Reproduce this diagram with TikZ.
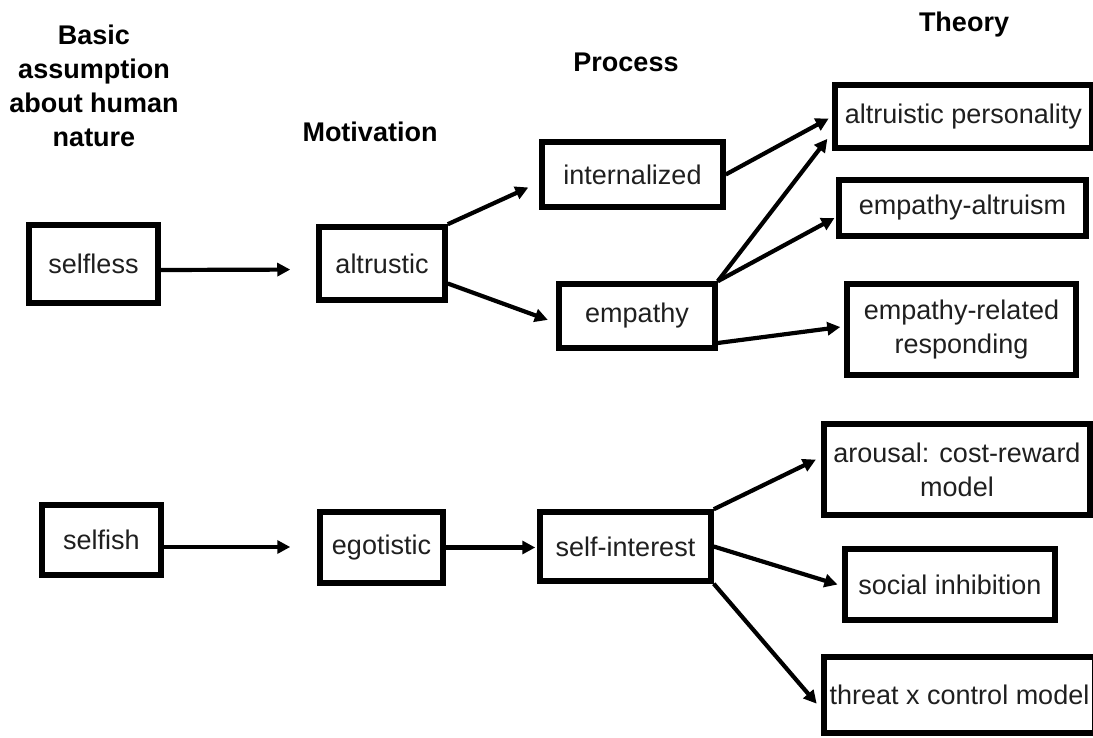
\documentclass[tikz,border=0pt]{standalone}
\usepackage{fontspec}
\setmainfont{Liberation Sans}
\usetikzlibrary{arrows.meta,calc}

\tikzset{
  box/.style={draw=black, line width=5.5pt, rectangle, inner sep=0pt,
    align=center, text=black!88,
    font=\fontsize{27}{34}\selectfont},
  head/.style={align=center, inner sep=0pt, text=black,
    font=\fontsize{27}{34}\selectfont\bfseries},
  arr/.style={line width=4.2pt, draw=black,
    -{Triangle[length=13pt,width=13pt]}},
}

\begin{document}
\begin{tikzpicture}[x=1pt,y=-1pt]
\useasboundingbox (0,0) rectangle (1093,738);

% column headings
\node[head] (hbasic) at (94,86)  {Basic\\assumption\\about human\\nature};
\node[head] (hmot)   at (370,132) {Motivation};
\node[head] (hproc)  at (626,62)  {Process};
\node[head] (htheo)  at (964,25)  {Theory};

% upper branch
\node[box, minimum width=129pt, minimum height=78pt] (selfless) at (93.5,264)  {selfless};
\node[box, minimum width=126pt, minimum height=73pt] (alt)      at (382,263.5) {altrustic};
\node[box, minimum width=181pt, minimum height=65pt] (int)      at (632.5,174.5) {internalized};
\node[box, minimum width=156pt, minimum height=64pt] (emp)      at (637,316)   {empathy};
\node[box, minimum width=257pt, minimum height=63pt] (altpers)  at (963.5,116.5) {altruistic personality};
\node[box, minimum width=247pt, minimum height=56pt] (empalt)   at (962.5,208) {empathy-altruism};
\node[box, minimum width=229pt, minimum height=91pt] (emprel)   at (961.5,329.5) {empathy-related\\responding};

% lower branch
\node[box, minimum width=119pt, minimum height=70pt] (selfish)  at (101.5,540) {selfish};
\node[box, minimum width=123pt, minimum height=71pt] (ego)      at (381.5,547.5) {egotistic};
\node[box, minimum width=171pt, minimum height=69pt] (selfint)  at (625.5,546.5) {self-interest};
\node[box, minimum width=266pt, minimum height=91pt] (arousal)  at (957,469.5) {arousal: cost-reward\\model};
\node[box, minimum width=210pt, minimum height=71pt] (social)   at (950,584.5) {social inhibition};
\node[box, minimum width=271pt, minimum height=76pt] (threat)   at (959.5,695) {threat x control model};

% connectors, upper branch
\draw[arr, shorten >=26pt] ([yshift=-6pt]selfless.east) -- ([yshift=-6pt]alt.west);
\draw[arr, shorten >=12pt] (alt.north east) -- ([yshift=-8pt]int.west);
\draw[arr, shorten >=9pt]  ([yshift=-20pt]alt.east) -- ([yshift=-7pt]emp.west);
\draw[arr, shorten >=4pt]  (int.east) -- (altpers.west);
\draw[arr, shorten >=8pt]  (emp.north east) -- ([yshift=-16pt]altpers.west);
\draw[arr, shorten >=2pt]  (emp.north east) -- ([yshift=-9pt]empalt.west);
\draw[arr, shorten >=4pt]  ([yshift=-27pt]emp.east) -- ([yshift=3pt]emprel.west);

% connectors, lower branch
\draw[arr, shorten >=27pt] ([yshift=-7pt]selfish.east) -- ([yshift=-7pt]selfish.east -| ego.west);
\draw[arr, shorten >=2pt]  (ego.east) -- (ego.east -| selfint.west);
\draw[arr, shorten >=6pt]  (selfint.north east) -- ([yshift=12.5pt]arousal.west);
\draw[arr, shorten >=5pt]  (selfint.east) -- ([yshift=-1.5pt]social.west);
\draw[arr, shorten >=7pt]  (selfint.south east) -- ([yshift=-14pt]threat.west);
\end{tikzpicture}
\end{document}
